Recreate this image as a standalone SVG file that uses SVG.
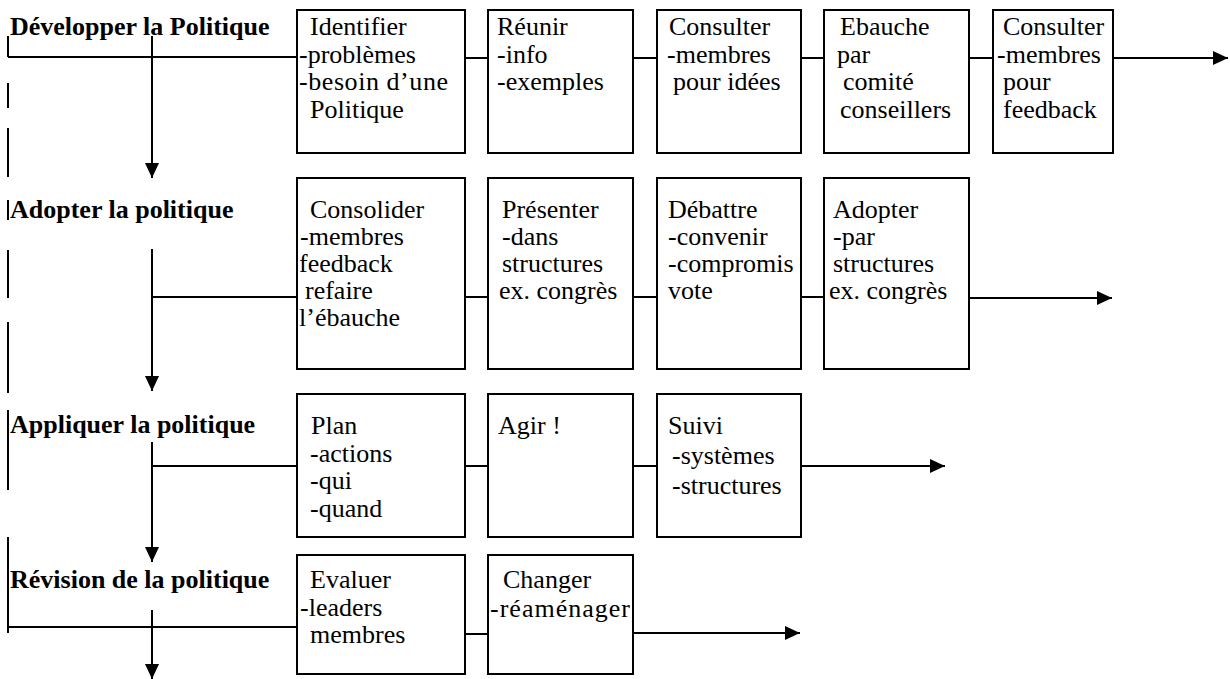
<svg xmlns="http://www.w3.org/2000/svg" width="1230" height="679" viewBox="0 0 1230 679">
<defs>
<marker id="ah" markerWidth="15" markerHeight="14" refX="15" refY="7" orient="auto" markerUnits="userSpaceOnUse">
<path d="M0,0 L15,7 L0,14 Z" fill="#000"/>
</marker>
<style>
.box{fill:#fff;stroke:#000;stroke-width:2}
.ln{fill:none;stroke:#000;stroke-width:2}
.t{font-family:"Liberation Serif","Times New Roman",serif;font-size:26px;fill:#000}
.lb{font-family:"Liberation Serif","Times New Roman",serif;font-size:26px;font-weight:bold;fill:#000}
</style>
</defs>
<rect width="1230" height="679" fill="#fff"/>

<g id="connectors">
<path class="ln" d="M8,36 V57 M8,83 V108 M8,128 V177 M8,200 V220 M8,250 V298 M8,322 V393 M8,410 V490 M8,537 V633"/>
<path class="ln" d="M8,57 H297"/>
<path class="ln" d="M152,297 H297"/>
<path class="ln" d="M152,466 H297"/>
<path class="ln" d="M8,627 H297"/>
<path class="ln" d="M152,36 V178" marker-end="url(#ah)"/>
<path class="ln" d="M152,249 V391" marker-end="url(#ah)"/>
<path class="ln" d="M152,442 V562" marker-end="url(#ah)"/>
<path class="ln" d="M152,610 V679" marker-end="url(#ah)"/>
<path class="ln" d="M465,58 H488 M633,58 H657 M801,58 H824 M969,58 H993"/>
<path class="ln" d="M1113,58 H1228" marker-end="url(#ah)"/>
<path class="ln" d="M465,297 H488 M633,297 H657 M801,297 H824"/>
<path class="ln" d="M969,298 H1112" marker-end="url(#ah)"/>
<path class="ln" d="M465,466 H488 M633,466 H657"/>
<path class="ln" d="M801,466 H945" marker-end="url(#ah)"/>
<path class="ln" d="M465,634 H488"/>
<path class="ln" d="M633,633 H800" marker-end="url(#ah)"/>
</g>

<g id="label-developper"><text class="lb" x="10" y="35">Développer la Politique</text></g>
<g id="label-adopter"><text class="lb" x="10" y="218">Adopter la politique</text></g>
<g id="label-appliquer"><text class="lb" x="10" y="433">Appliquer la politique</text></g>
<g id="label-revision"><text class="lb" x="10" y="588">Révision de la politique</text></g>

<g id="identifier">
<rect class="box" x="297" y="10" width="168" height="143"/>
<text class="t"><tspan x="310" y="35">Identifier</tspan><tspan x="299" y="62.5">-problèmes</tspan><tspan x="299" y="90" textLength="149" lengthAdjust="spacing">-besoin d’une</tspan><tspan x="310" y="117.5">Politique</tspan></text>
</g>
<g id="reunir">
<rect class="box" x="488" y="10" width="145" height="143"/>
<text class="t"><tspan x="497" y="35">Réunir</tspan><tspan x="497" y="62.5">-info</tspan><tspan x="497" y="90">-exemples</tspan></text>
</g>
<g id="consulter1">
<rect class="box" x="657" y="10" width="144" height="143"/>
<text class="t"><tspan x="669" y="35">Consulter</tspan><tspan x="667" y="62.5">-membres</tspan><tspan x="673" y="90">pour idées</tspan></text>
</g>
<g id="ebauche">
<rect class="box" x="824" y="10" width="145" height="143"/>
<text class="t"><tspan x="840" y="35">Ebauche</tspan><tspan x="837" y="62.5">par</tspan><tspan x="843" y="90">comité</tspan><tspan x="840" y="117.5">conseillers</tspan></text>
</g>
<g id="consulter2">
<rect class="box" x="993" y="10" width="120" height="143"/>
<text class="t"><tspan x="1003" y="35">Consulter</tspan><tspan x="997" y="62.5">-membres</tspan><tspan x="1003" y="90">pour</tspan><tspan x="1003" y="117.5">feedback</tspan></text>
</g>

<g id="consolider">
<rect class="box" x="297" y="178" width="168" height="191"/>
<text class="t"><tspan x="310" y="218">Consolider</tspan><tspan x="300" y="245">-membres</tspan><tspan x="299" y="272">feedback</tspan><tspan x="305" y="299">refaire</tspan><tspan x="299" y="326">l’ébauche</tspan></text>
</g>
<g id="presenter">
<rect class="box" x="488" y="178" width="145" height="191"/>
<text class="t"><tspan x="502" y="218">Présenter</tspan><tspan x="502" y="245">-dans</tspan><tspan x="502" y="272">structures</tspan><tspan x="499" y="299">ex. congrès</tspan></text>
</g>
<g id="debattre">
<rect class="box" x="657" y="178" width="144" height="191"/>
<text class="t"><tspan x="668" y="218">Débattre</tspan><tspan x="668" y="245">-convenir</tspan><tspan x="668" y="272">-compromis</tspan><tspan x="668" y="299">vote</tspan></text>
</g>
<g id="adopter">
<rect class="box" x="824" y="178" width="145" height="191"/>
<text class="t"><tspan x="833" y="218">Adopter</tspan><tspan x="833" y="245">-par</tspan><tspan x="833" y="272">structures</tspan><tspan x="829" y="299">ex. congrès</tspan></text>
</g>

<g id="plan">
<rect class="box" x="297" y="394" width="168" height="143"/>
<text class="t"><tspan x="311" y="434">Plan</tspan><tspan x="310" y="461.5">-actions</tspan><tspan x="310" y="489">-qui</tspan><tspan x="310" y="516.5">-quand</tspan></text>
</g>
<g id="agir">
<rect class="box" x="488" y="394" width="145" height="143"/>
<text class="t"><tspan x="498" y="434">Agir !</tspan></text>
</g>
<g id="suivi">
<rect class="box" x="657" y="394" width="144" height="143"/>
<text class="t"><tspan x="668" y="434">Suivi</tspan><tspan x="672" y="464">-systèmes</tspan><tspan x="672" y="494">-structures</tspan></text>
</g>

<g id="evaluer">
<rect class="box" x="297" y="555" width="168" height="119"/>
<text class="t"><tspan x="310" y="588">Evaluer</tspan><tspan x="300" y="615.5">-leaders</tspan><tspan x="310" y="643">membres</tspan></text>
</g>
<g id="changer">
<rect class="box" x="488" y="555" width="145" height="119"/>
<text class="t"><tspan x="503" y="588">Changer</tspan><tspan x="490" y="617" textLength="140" lengthAdjust="spacing">-réaménager</tspan></text>
</g>
</svg>
